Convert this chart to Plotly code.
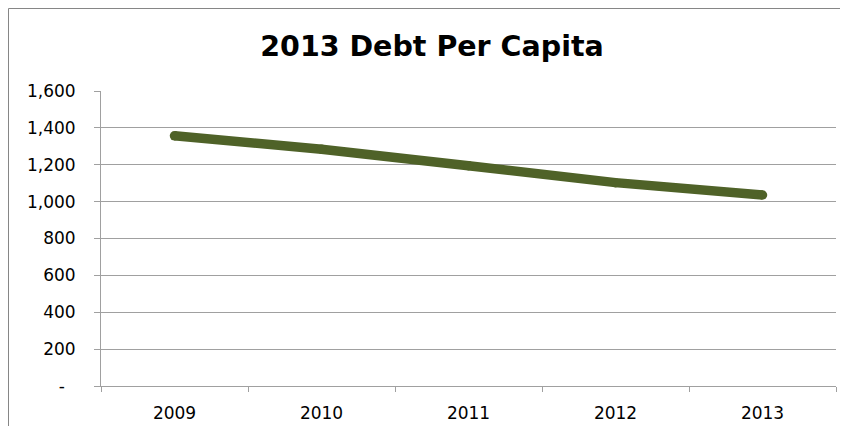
import plotly.graph_objects as go

years = ["2009", "2010", "2011", "2012", "2013"]
debt_per_capita = [1357, 1284, 1195, 1103, 1036]
y_tick_values = [0, 200, 400, 600, 800, 1000, 1200, 1400, 1600]
y_tick_labels = ["-\u00a0\u00a0", "200", "400", "600", "800", "1,000", "1,200", "1,400", "1,600"]

line_color = "#4F6228"
grid_color = "#A0A0A0"
border_color = "#868686"

# page body has an 8px default margin; figure is sized/positioned to compensate
W, H = 832, 418
L, R, T, B = 93, 4, 83, 40
plot_w, plot_h = W - L - R, H - T - B

fig = go.Figure()
fig.add_trace(go.Scatter(
    x=years, y=debt_per_capita, mode="lines+markers",
    line=dict(color=line_color, width=9.5),
    marker=dict(color=line_color, size=9.5, line=dict(width=0)),
    showlegend=False,
))

bx0 = (0.5 - L) / plot_w
by1 = (plot_h + T - 0.5) / plot_h

fig.update_layout(
    width=W, height=H,
    margin=dict(l=L, r=R, t=T, b=B),
    paper_bgcolor="white", plot_bgcolor="white",
    font=dict(family="DejaVu Sans", color="#000000", size=17),
    title=dict(
        text="<b>2013 Debt Per Capita</b>",
        font=dict(family="DejaVu Sans", size=28.5, color="#000000"),
        x=424 / W, xanchor="center", xref="container",
        y=1 - 37.8 / H, yanchor="middle", yref="container",
    ),
    xaxis=dict(
        type="category", range=[-0.5, 4.5],
        showgrid=False, showline=True, linecolor=grid_color, linewidth=1,
        ticks="outside", tickson="boundaries", ticklen=5, tickcolor=grid_color,
        ticklabelstandoff=12,
        tickfont=dict(size=17, family="DejaVu Sans", color="#000000"),
    ),
    yaxis=dict(
        range=[0, 1600], tickvals=y_tick_values, ticktext=y_tick_labels,
        showgrid=True, gridcolor=grid_color, gridwidth=1,
        showline=True, linecolor=grid_color, linewidth=1,
        ticks="outside", ticklen=6, tickcolor=grid_color,
        ticklabelstandoff=15,
        tickfont=dict(size=17, family="DejaVu Sans", color="#000000"),
        zeroline=False,
    ),
    shapes=[
        dict(type="line", xref="paper", yref="paper",
             x0=bx0, x1=1.3, y0=by1, y1=by1,
             line=dict(color=border_color, width=1), layer="below"),
        dict(type="line", xref="paper", yref="paper",
             x0=bx0, x1=bx0, y0=-0.5, y1=by1,
             line=dict(color=border_color, width=1), layer="below"),
    ],
)

fig.write_html("out.html")
